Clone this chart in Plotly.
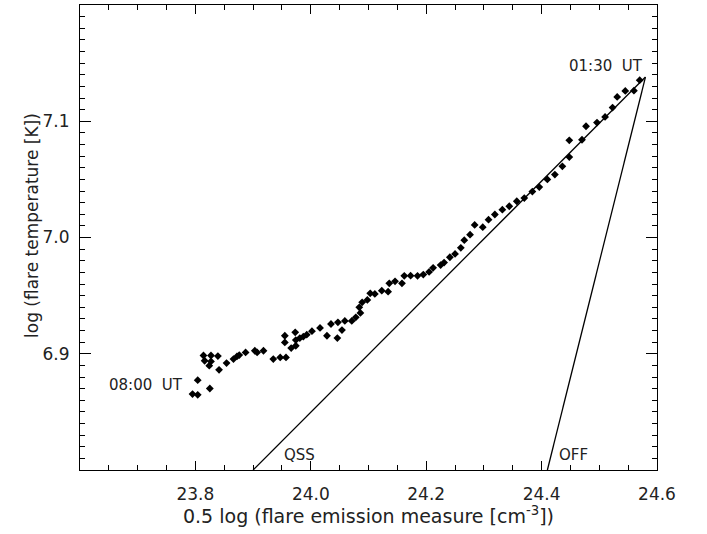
import plotly.graph_objects as go

# observed flare track (0.5 log EM, log T)
em_half_log = [23.795, 23.804, 23.804, 23.825, 23.814, 23.827, 23.816, 23.827, 23.824, 23.839,
               23.841, 23.854, 23.866, 23.872, 23.876, 23.887, 23.903, 23.907, 23.918, 23.935,
               23.947, 23.957, 23.955, 23.955, 23.966, 23.974, 23.974, 23.973, 23.981, 23.987,
               23.993, 24.002, 24.016, 24.028, 24.035, 24.046, 24.047, 24.054, 24.059, 24.071,
               24.078, 24.086, 24.084, 24.089, 24.098, 24.103, 24.111, 24.123, 24.134, 24.136,
               24.146, 24.158, 24.162, 24.173, 24.185, 24.195, 24.205, 24.212, 24.225, 24.231,
               24.241, 24.250, 24.260, 24.266, 24.276, 24.284, 24.298, 24.308, 24.319, 24.332,
               24.344, 24.357, 24.370, 24.384, 24.396, 24.410, 24.423, 24.436, 24.448, 24.448,
               24.470, 24.477, 24.496, 24.510, 24.523, 24.531, 24.545, 24.560, 24.570]
log_temp = [6.8653, 6.8647, 6.8773, 6.8701, 6.8985, 6.8985, 6.8940, 6.8934, 6.8897, 6.8980,
            6.8862, 6.8920, 6.8954, 6.8977, 6.8989, 6.9011, 6.9026, 6.9011, 6.9026, 6.8954,
            6.8968, 6.8968, 6.9155, 6.9097, 6.9049, 6.9069, 6.9118, 6.9184, 6.9135, 6.9147,
            6.9164, 6.9194, 6.9222, 6.9155, 6.9256, 6.9135, 6.9270, 6.9204, 6.9282, 6.9282,
            6.9313, 6.9351, 6.9399, 6.9442, 6.9463, 6.9520, 6.9515, 6.9543, 6.9534, 6.9606,
            6.9623, 6.9606, 6.9670, 6.9672, 6.9670, 6.9681, 6.9704, 6.9739, 6.9763, 6.9784,
            6.9830, 6.9859, 6.9911, 6.9977, 7.0024, 7.0108, 7.0089, 7.0153, 7.0198, 7.0239,
            7.0269, 7.0312, 7.0339, 7.0395, 7.0434, 7.0500, 7.0541, 7.0612, 7.0692, 7.0836,
            7.0841, 7.0957, 7.0989, 7.1037, 7.1118, 7.1209, 7.1261, 7.1263, 7.1353]

# model tracks
qss_x = [23.900, 24.580]
qss_y = [6.800, 7.138]
off_x = [24.410, 24.580]
off_y = [6.800, 7.138]

x_range = [23.6, 24.6]
y_range = [6.8, 7.2]
x_ticks = [23.8, 24.0, 24.2, 24.4, 24.6]
x_ticklabels = ["23.8", "24.0", "24.2", "24.4", "24.6"]
y_ticks = [6.9, 7.0, 7.1]
y_ticklabels = ["6.9", "7.0", "7.1"]

FONT = "DejaVu Sans"

fig = go.Figure()
fig.add_trace(go.Scatter(x=qss_x, y=qss_y, mode="lines",
                         line=dict(color="black", width=1.3), showlegend=False))
fig.add_trace(go.Scatter(x=off_x, y=off_y, mode="lines",
                         line=dict(color="black", width=1.3), showlegend=False))
fig.add_trace(go.Scatter(x=em_half_log, y=log_temp, mode="markers",
                         marker=dict(symbol="diamond", size=6, color="black",
                                     line=dict(width=0)),
                         showlegend=False))

ann_font = dict(family=FONT, size=15, color="#222")
fig.add_annotation(x=24.579, y=7.1474, text="01:30  UT", showarrow=False,
                   xanchor="right", yanchor="middle", font=ann_font)
fig.add_annotation(x=23.782, y=6.8730, text="08:00  UT", showarrow=False,
                   xanchor="right", yanchor="middle", font=ann_font)
fig.add_annotation(x=23.950, y=6.8132, text="QSS", showarrow=False,
                   xanchor="left", yanchor="middle", font=ann_font)
fig.add_annotation(x=24.4267, y=6.8129, text="OFF", showarrow=False,
                   xanchor="left", yanchor="middle", font=ann_font)
# y-axis title placed as rotated text
fig.add_annotation(xref="paper", yref="paper", x=-0.083, y=0.525,
                   text="log (flare temperature [K])", textangle=-90, showarrow=False,
                   xanchor="center", yanchor="middle",
                   font=dict(family=FONT, size=17, color="#222"))

axis_common = dict(showgrid=False, zeroline=False, showline=True, linecolor="black",
                   linewidth=1.2, mirror="allticks", ticks="inside", tickcolor="black",
                   tickwidth=1.2, tickfont=dict(family=FONT, size=17, color="#222"))

fig.update_xaxes(range=x_range, tickvals=x_ticks, ticktext=x_ticklabels, ticklen=9,
                 ticklabelstandoff=8,
                 minor=dict(dtick=0.05, tick0=23.6, ticks="inside", ticklen=5,
                            tickcolor="black", tickwidth=1.2),
                 title=dict(text="0.5 log (flare emission measure [cm<sup>-3</sup>])",
                            font=dict(family=FONT, size=19, color="#222"), standoff=4),
                 **axis_common)
fig.update_yaxes(range=y_range, tickvals=y_ticks, ticktext=y_ticklabels, ticklen=11,
                 ticklabelstandoff=6,
                 minor=dict(dtick=0.01, tick0=6.8, ticks="inside", ticklen=5,
                            tickcolor="black", tickwidth=1.2),
                 **axis_common)

fig.update_layout(width=707, height=534, plot_bgcolor="white", paper_bgcolor="white",
                  margin=dict(l=80, r=50, t=5, b=64), font=dict(family=FONT))

fig.write_html("out.html", config={"displayModeBar": False},
               post_script="document.body.style.margin='0';document.body.style.padding='0';")
